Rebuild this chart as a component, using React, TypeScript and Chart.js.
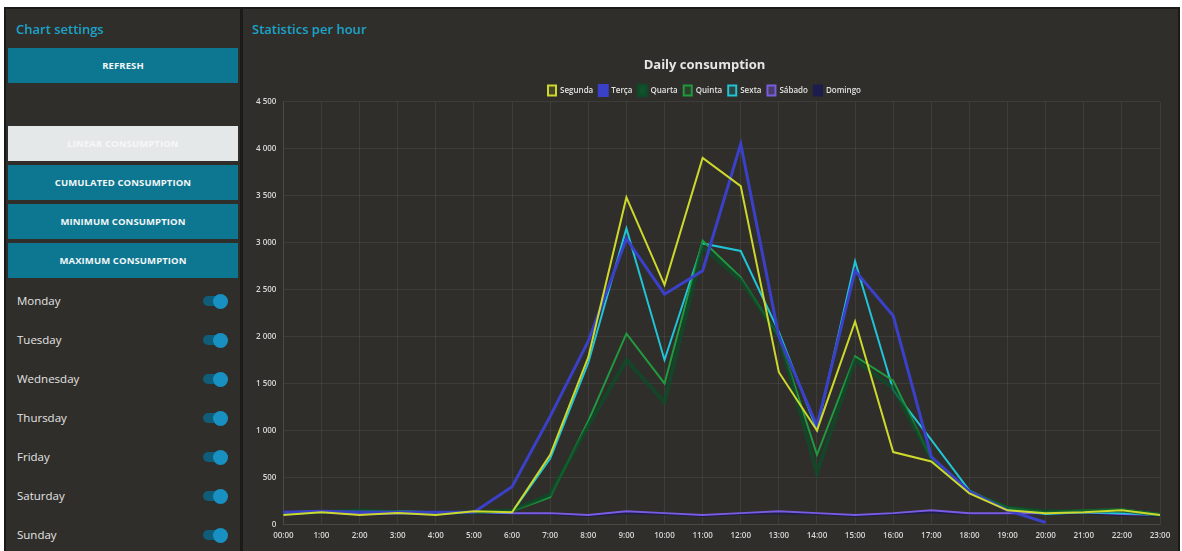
import React, { useEffect, useRef } from "react";
import { Chart, registerables } from "chart.js";

Chart.register(...registerables);

// Hour labels for the x axis
const hours = [
  "00:00", "1:00", "2:00", "3:00", "4:00", "5:00", "6:00", "7:00", "8:00", "9:00", "10:00", "11:00",
  "12:00", "13:00", "14:00", "15:00", "16:00", "17:00", "18:00", "19:00", "20:00", "21:00", "22:00", "23:00",
];

// Consumption per hour, one series per weekday
const segunda = [100, 130, 100, 120, 100, 140, 130, 740, 1780, 3480, 2550, 3900, 3600, 1620, 1000, 2160, 770, 670, 330, 150, 120, 130, 150, 100];
const terca = [130, 140, 130, 130, 130, 130, 400, 1150, 1950, 3040, 2450, 2700, 4050, 2000, 1050, 2700, 2220, 720, 350, 150, 20, null, null, null];
const quarta = [120, 130, 150, 130, 120, 130, 150, 320, 1050, 1750, 1300, 2950, 2600, 2000, 550, 1750, 1450, 700, 340, 180, 140, 140, 150, 100];
const quinta = [120, 140, 130, 140, 120, 130, 140, 290, 1100, 2030, 1500, 3020, 2630, 2000, 740, 1790, 1530, 700, 350, 180, 130, 150, 160, 110];
const sexta = [130, 140, 140, 140, 130, 130, 130, 700, 1720, 3150, 1750, 2990, 2910, 2050, 1010, 2800, 1430, 900, 360, 170, 110, 130, 120, 100];
const sabado = [110, 130, 110, 120, 110, 130, 120, 120, 100, 140, 120, 100, 120, 140, 120, 100, 120, 150, 120, 120, 120, 130, 110, 100];
const domingo = [100, 120, 100, 110, 100, 120, 110, 110, 90, 120, 110, 90, 110, 120, 110, 90, 110, 130, 110, 110, 110, 120, 100, 90];

// Y axis tick values
const yTicks = [0, 500, 1000, 1500, 2000, 2500, 3000, 3500, 4000, 4500];

const seriesNames = ["Segunda", "Terça", "Quarta", "Quinta", "Sexta", "Sábado", "Domingo"];
const seriesValues = [segunda, terca, quarta, quinta, sexta, sabado, domingo];
const seriesColors = ["#cdd82c", "#3b40c8", "rgba(14,78,40,0.75)", "#1f9a3e", "#20c4d6", "#7a5ce2", "#1d1c4e"];
const seriesFills = [
  "rgba(205,216,44,0.15)", "#3b40c8", "#10532d", "rgba(31,154,62,0.15)",
  "rgba(32,196,214,0.15)", "rgba(122,92,226,0.35)", "#1d1c4e",
];
const seriesWidths = [2, 3, 4, 2, 2, 2, 2];

const sidebarButtons = ["CUMULATED CONSUMPTION", "MINIMUM CONSUMPTION", "MAXIMUM CONSUMPTION"];
const weekdays = ["Monday", "Tuesday", "Wednesday", "Thursday", "Friday", "Saturday", "Sunday"];

const BG = "#2f2e2a";
const TEAL = "#0d7690";
const ACCENT = "#1ba3c9";
const UI_FONT = "'Open Sans', 'Noto Sans', sans-serif";

function formatThousands(v: number): string {
  return String(v).replace(/\B(?=(\d{3})+(?!\d))/g, " ");
}

// Nudges the legend row a few pixels lower without changing the plot area
const legendNudge = {
  id: "legendNudge",
  afterLayout(chart: any) {
    const lg = chart.legend;
    if (lg) {
      lg.top += 4;
      lg.bottom += 4;
    }
  },
};

function ConsumptionChart() {
  const ref = useRef<HTMLCanvasElement | null>(null);

  useEffect(() => {
    if (!ref.current) return;
    const chart = new Chart(ref.current, {
      type: "line",
      data: {
        labels: hours,
        datasets: seriesNames.map((name, i) => ({
          label: name,
          data: seriesValues[i],
          borderColor: seriesColors[i],
          backgroundColor: seriesFills[i],
          borderWidth: seriesWidths[i],
          pointRadius: 0,
          tension: 0,
          fill: false,
        })),
      },
      options: {
        responsive: false,
        animation: false,
        layout: { padding: { left: 6, right: 18, bottom: 0, top: 0 } },
        plugins: {
          title: {
            display: true,
            text: "Daily consumption",
            color: "#e6e6e6",
            font: { family: UI_FONT, size: 13, weight: "bold" },
            padding: { top: 7, bottom: 3 },
          },
          legend: {
            display: true,
            labels: {
              color: "#e2e2e2",
              boxWidth: 8,
              boxHeight: 10,
              padding: 6,
              font: { family: UI_FONT, size: 8, weight: "600" },
            },
          },
          tooltip: { enabled: false },
        },
        scales: {
          x: {
            grid: { color: "rgba(255,255,255,0.07)", drawTicks: false },
            border: { color: "rgba(255,255,255,0.07)" },
            ticks: {
              color: "#d8d8d8",
              padding: 7,
              maxRotation: 0,
              autoSkip: false,
              font: { family: UI_FONT, size: 8, weight: "600" },
            },
          },
          y: {
            min: 0,
            max: yTicks[yTicks.length - 1],
            grid: { color: "rgba(255,255,255,0.07)", drawTicks: false },
            border: { color: "rgba(255,255,255,0.07)" },
            afterBuildTicks: (axis: any) => {
              axis.ticks = yTicks.map((v) => ({ value: v }));
            },
            ticks: {
              color: "#d8d8d8",
              padding: 7,
              font: { family: UI_FONT, size: 8, weight: "600" },
              callback: (v: any) => formatThousands(Number(v)),
            },
          },
        },
      },
      plugins: [legendNudge],
    });
    return () => chart.destroy();
  }, []);

  return (
    <canvas
      ref={ref}
      width={935}
      height={498}
      style={{ position: "absolute", left: 243, top: 50, width: 935, height: 498 }}
    />
  );
}

function Toggle({ top }: { top: number }) {
  return (
    <div style={{ position: "absolute", left: 203, top: top - 6, width: 26, height: 12 }}>
      <div style={{ position: "absolute", left: 0, top: 1, width: 24, height: 10, borderRadius: 5, background: "#0f5d78" }} />
      <div style={{ position: "absolute", left: 10, top: -1, width: 15, height: 15, borderRadius: "50%", background: "#1891c2" }} />
    </div>
  );
}

export default function App() {
  const btn = (top: number, text: string, light = false) => (
    <div
      key={text}
      style={{
        position: "absolute",
        left: 8,
        top,
        width: 230,
        height: 35,
        background: light ? "#e5e8e9" : TEAL,
        color: light ? "#f6f8f8" : "#f2f6f8",
        fontFamily: UI_FONT,
        fontWeight: 700,
        fontSize: 9.5,
        display: "flex",
        alignItems: "center",
        justifyContent: "center",
        letterSpacing: 0.1,
      }}
    >
      {text}
    </div>
  );

  return (
    <div style={{ position: "fixed", left: 0, top: 0, width: 1182, height: 551, background: "#ffffff", overflow: "hidden" }}>
      <div style={{ position: "absolute", left: 4, top: 7, width: 1176, height: 546, background: "#1a1a18" }} />
      <div style={{ position: "absolute", left: 6, top: 9, width: 234, height: 542, background: BG }} />
      <div style={{ position: "absolute", left: 243, top: 9, width: 935, height: 542, background: BG }} />

      <div style={{ position: "absolute", left: 16, top: 20, fontFamily: UI_FONT, fontWeight: 600, fontSize: 13, color: ACCENT }}>
        Chart settings
      </div>
      <div style={{ position: "absolute", left: 252, top: 20, fontFamily: UI_FONT, fontWeight: 600, fontSize: 13, color: ACCENT }}>
        Statistics per hour
      </div>

      {btn(48, "REFRESH")}
      {btn(126, "LINEAR CONSUMPTION", true)}
      {sidebarButtons.map((t, i) => btn(165 + i * 39, t))}

      {weekdays.map((d, i) => {
        const cy = 301 + i * 39;
        return (
          <React.Fragment key={d}>
            <div
              style={{
                position: "absolute",
                left: 17,
                top: cy - 9,
                fontFamily: UI_FONT,
                fontSize: 11.5,
                lineHeight: "18px",
                color: "#e4e4e4",
              }}
            >
              {d}
            </div>
            <Toggle top={cy} />
          </React.Fragment>
        );
      })}

      <ConsumptionChart />
    </div>
  );
}
